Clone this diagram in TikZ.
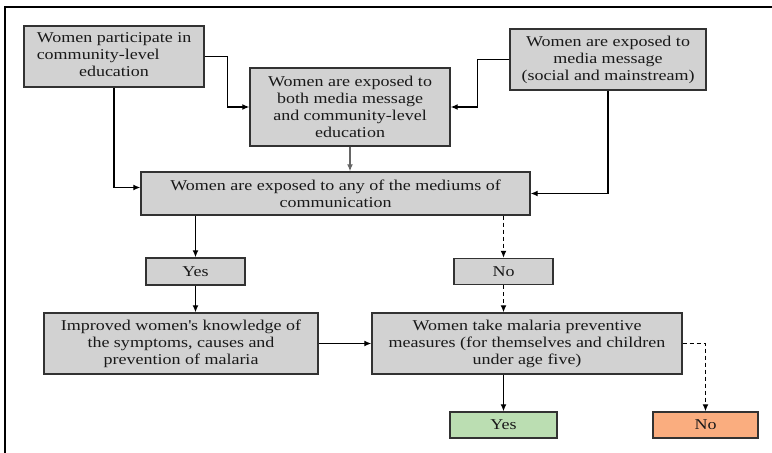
\documentclass[tikz,border=0pt]{standalone}
\usepackage{fontspec}
\setmainfont[FakeStretch=1.2]{Liberation Serif}
\usetikzlibrary{arrows.meta,calc}
\definecolor{boxgray}{RGB}{210,210,210}
\definecolor{boxgreen}{RGB}{187,222,178}
\definecolor{boxorange}{RGB}{250,173,127}
\definecolor{edgegray}{RGB}{50,50,50}
\begin{document}
\begin{tikzpicture}[x=1pt,y=-1pt,
  box/.style={draw=edgegray,line width=1.4pt,fill=boxgray,inner sep=0pt,
    align=center,font=\fontsize{15}{17}\selectfont,text=black!90},
  conn/.style={line width=1.3pt,-{Latex[length=7pt,width=6pt]}},
  dconn/.style={conn,dash pattern=on 4pt off 3pt}]
\useasboundingbox (0,0) rectangle (772,453);
\draw[line width=1.4pt] (5,453) -- (5,7) -- (772,7);

\node[box,minimum width=180pt,minimum height=61pt] (A) at (114,56.5)
  {\begin{tabular}{@{}l@{}}Women participate in\\community-level\\\multicolumn{1}{@{}c@{}}{education}\end{tabular}};
\node[box,minimum width=200pt,minimum height=78pt] (B) at (350,107)
  {Women are exposed to\\both media message\\and community-level\\education};
\node[box,minimum width=196pt,minimum height=61pt] (C) at (608,59.5)
  {Women are exposed to\\media message\\(social and mainstream)};
\node[box,minimum width=389pt,minimum height=43pt] (D) at (335.5,193.5)
  {Women are exposed to any of the mediums of\\communication};
\node[box,minimum width=99pt,minimum height=27pt] (Y1) at (195.5,271.5) {Yes};
\node[box,minimum width=99pt,minimum height=26pt] (N1) at (503.5,271.5) {No};
\node[box,minimum width=274pt,minimum height=61pt] (E) at (181,343.5)
  {Improved women\textquotesingle s knowledge of\\the symptoms, causes and\\prevention of malaria};
\node[box,minimum width=310pt,minimum height=61pt] (F) at (527,343.5)
  {Women take malaria preventive\\measures (for themselves and children\\under age five)};
\node[box,fill=boxgreen,minimum width=107pt,minimum height=26pt] (Y2) at (503.5,425) {Yes};
\node[box,fill=boxorange,minimum width=105pt,minimum height=26pt] (N2) at (705.5,425) {No};

\draw[conn] (A.east) -- ++(23,0) |- (B.west);
\draw[conn] (C.west) -- ++(-32,0) |- (B.east);
\draw[conn,draw=black!60] (B.south) -- (B.south |- D.north);
\draw[conn] (A.south) |- ($(D.west)+(0,-6)$);
\draw[conn] (C.south) |- (D.east);
\draw[conn] (Y1.north |- D.south) -- (Y1.north);
\draw[dconn] (N1.north |- D.south) -- (N1.north);
\draw[conn] (Y1.south) -- (Y1.south |- E.north);
\draw[conn] (E.east) -- (F.west);
\draw[dconn] (N1.south) -- (N1.south |- F.north);
\draw[conn] (Y2.north |- F.south) -- (Y2.north);
\draw[dconn] (F.east) -| (N2.north);
\end{tikzpicture}
\end{document}
